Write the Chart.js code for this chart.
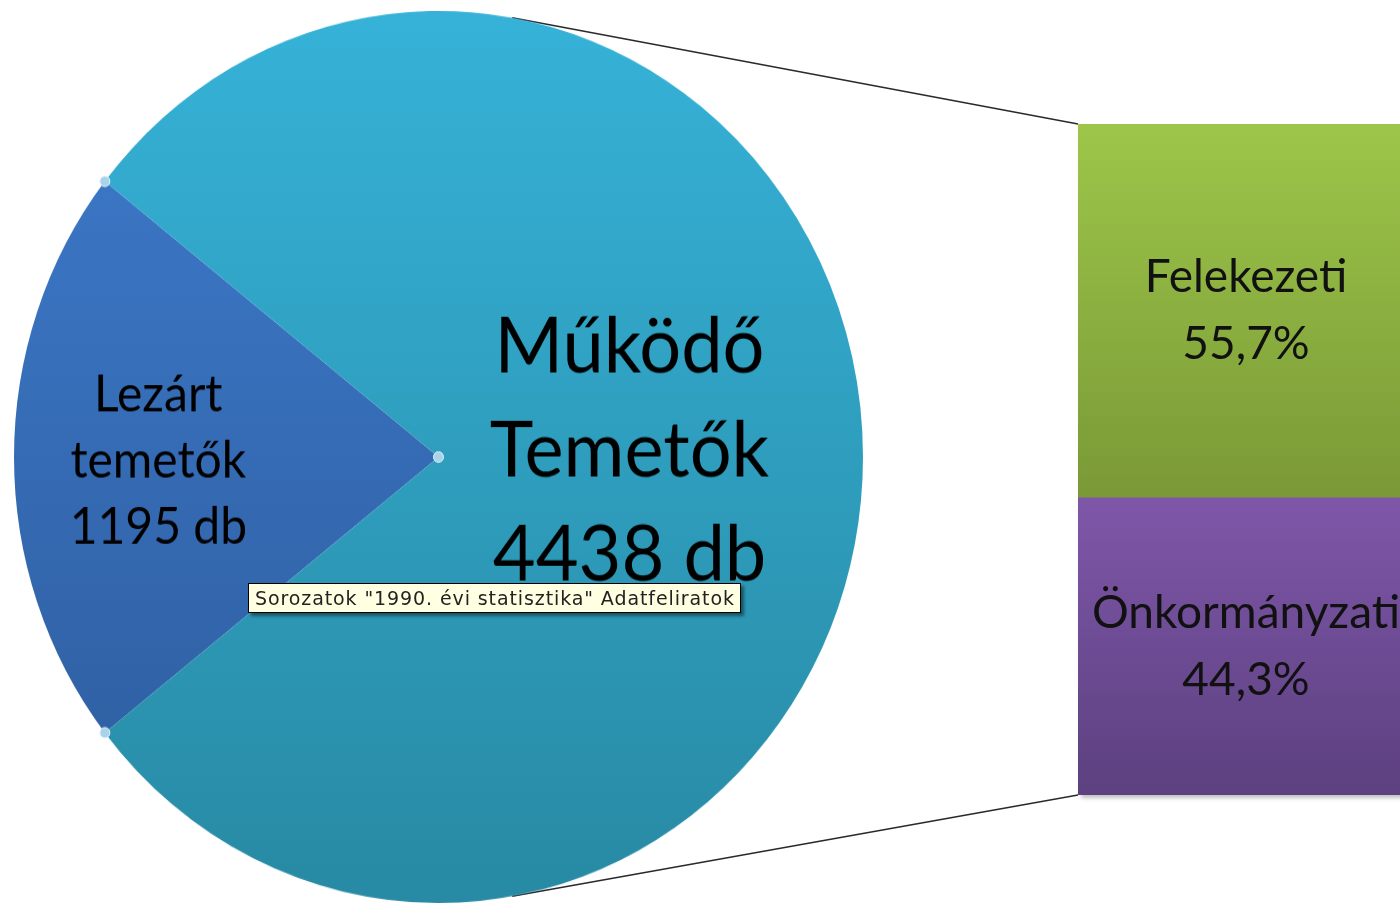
<!DOCTYPE html>
<html>
<head>
<meta charset="utf-8">
<script src="https://cdn.jsdelivr.net/npm/chart.js@4.4.1/dist/chart.umd.min.js"></script>
<style>
  html, body { margin: 0; padding: 0; background: #fff; width: 1400px; height: 903px; overflow: hidden; position: relative; }
  #pieWrap { position: absolute; left: 14px; top: 11px; width: 849px; height: 849px; transform: scaleY(1.0507); transform-origin: 0 0; }
  #barWrap { position: absolute; left: 1078px; top: 124px; width: 336px; height: 671px; box-shadow: 3px 3px 4px rgba(0,0,0,0.25); }
  #lines { position: absolute; left: 0; top: 0; pointer-events: none; }
  #tip { position: absolute; left: 248px; top: 583px; padding: 3px 5px 3px 6px; background: #ffffe1; border: 1px solid #000;
         font: 19px "DejaVu Sans", "Noto Sans", sans-serif; letter-spacing: 0.9px; color: #222; white-space: nowrap;
         box-shadow: 3px 3px 3px rgba(0,0,0,0.45); }
</style>
</head>
<body>
<canvas id="lines" width="1400" height="903"></canvas>
<div id="pieWrap"><canvas id="pieChart"></canvas></div>
<div id="barWrap"><canvas id="barChart"></canvas></div>
<div id="tip">Sorozatok "1990. évi statisztika" Adatfeliratok</div>

<script>
// pie data
const pieLabels = ["Lezárt temetők", "Működő Temetők"];
const pieValues = [1195, 4438];
const pieText = [["Lezárt", "temetők", "1195 db"], ["Működő", "Temetők", "4438 db"]];

// bar data (split of the working cemeteries), bottom first
const barLabels = ["Önkormányzati", "Felekezeti"];
const barValues = [44.3, 55.7];
const barText = [["Önkormányzati", "44,3%"], ["Felekezeti", "55,7%"]];

const pieColors = [["#3e7ccd", "#2d5b9c"], ["#36b2d8", "#288aa4"]];
const barColors = [["#7f57a9", "#5c407f"], ["#9dc649", "#7a9937"]];

const textFont = "Lato, 'Open Sans', sans-serif";

function vGrad(chart, top, bottom, pair) {
    const g = chart.ctx.createLinearGradient(0, top, 0, bottom);
    g.addColorStop(0, pair[0]);
    g.addColorStop(1, pair[1]);
    return g;
}

const frac = pieValues[0] / (pieValues[0] + pieValues[1]);

const pieLabelPlugin = {
    id: 'pieLabels',
    afterDatasetsDraw(chart) {
        const ctx = chart.ctx;
        const arcs = chart.getDatasetMeta(0).data;
        const sizes = [48, 74];
        const gaps = [63, 99];
        const dist = [0.66, 0.45];
        const dy = [4, -5];
        arcs.forEach(function (arc, i) {
            const mid = (arc.startAngle + arc.endAngle) / 2;
            const x = arc.x + Math.cos(mid) * arc.outerRadius * dist[i];
            const y = arc.y + Math.sin(mid) * arc.outerRadius * dist[i] + dy[i];
            ctx.save();
            ctx.fillStyle = "#000";
            ctx.font = sizes[i] + "px " + textFont;
            ctx.textAlign = "center";
            ctx.textBaseline = "middle";
            pieText[i].forEach(function (line, k) {
                ctx.fillText(line, x, y + (k - 1) * gaps[i]);
            });
            ctx.restore();
        });
        // selection handles on the small slice
        const a = arcs[0];
        const pts = [
            [a.x + Math.cos(a.startAngle) * a.outerRadius, a.y + Math.sin(a.startAngle) * a.outerRadius],
            [a.x, a.y],
            [a.x + Math.cos(a.endAngle) * a.outerRadius, a.y + Math.sin(a.endAngle) * a.outerRadius]
        ];
        ctx.save();
        pts.forEach(function (p) {
            ctx.beginPath();
            ctx.arc(p[0], p[1], 5, 0, Math.PI * 2);
            ctx.fillStyle = "#a9d3ea";
            ctx.fill();
            ctx.lineWidth = 1;
            ctx.strokeStyle = "#e8f4fb";
            ctx.stroke();
        });
        ctx.restore();
    }
};

const barLabelPlugin = {
    id: 'barLabels',
    afterDatasetsDraw(chart) {
        const ctx = chart.ctx;
        chart.data.datasets.forEach(function (ds, i) {
            const bar = chart.getDatasetMeta(i).data[0];
            const cy = (bar.y + bar.base) / 2;
            ctx.save();
            ctx.fillStyle = "#111";
            ctx.font = "46px " + textFont;
            ctx.textAlign = "center";
            ctx.textBaseline = "middle";
            barText[i].forEach(function (line, k) {
                ctx.fillText(line, bar.x, cy + (k - 0.5) * 67);
            });
            ctx.restore();
        });
    }
};

const pieChart = new Chart(document.getElementById('pieChart'), {
    type: 'pie',
    data: {
        labels: pieLabels,
        datasets: [{
            data: pieValues,
            borderWidth: 0,
            backgroundColor: function (c) {
                const area = c.chart.chartArea;
                if (!area) return pieColors[c.dataIndex][0];
                return vGrad(c.chart, area.top, area.bottom, pieColors[c.dataIndex]);
            }
        }]
    },
    options: {
        responsive: true,
        maintainAspectRatio: false,
        animation: false,
        events: [],
        rotation: 270 - 180 * frac,
        layout: { padding: 0 },
        plugins: { legend: { display: false }, tooltip: { enabled: false } }
    },
    plugins: [pieLabelPlugin]
});

const barChart = new Chart(document.getElementById('barChart'), {
    type: 'bar',
    data: {
        labels: [""],
        datasets: barLabels.map(function (name, i) {
            return {
                label: name,
                data: [barValues[i]],
                borderWidth: 0,
                barPercentage: 1,
                categoryPercentage: 1,
                backgroundColor: function (c) {
                    const el = c.chart.getDatasetMeta(c.datasetIndex).data[0];
                    if (!el || el.y === undefined || isNaN(el.y)) return barColors[i][0];
                    return vGrad(c.chart, el.y, el.base, barColors[i]);
                }
            };
        })
    },
    options: {
        responsive: true,
        maintainAspectRatio: false,
        animation: false,
        events: [],
        layout: { padding: 0 },
        scales: {
            x: { stacked: true, display: false },
            y: { stacked: true, display: false, min: 0, max: 100 }
        },
        plugins: { legend: { display: false }, tooltip: { enabled: false } }
    },
    plugins: [barLabelPlugin]
});
// redraw once so the bar gradients use the laid-out element positions
barChart.update();

// series lines from the pie (10° off the vertical) to the bar corners
function drawLines() {
    const cv = document.getElementById('lines');
    const ctx = cv.getContext('2d');
    ctx.clearRect(0, 0, cv.width, cv.height);
    const arc = pieChart.getDatasetMeta(0).data[0];
    const wrap = document.getElementById('pieWrap');
    const pr = wrap.getBoundingClientRect();
    const sx = pr.width / wrap.offsetWidth, sy = pr.height / wrap.offsetHeight;
    const bw = document.getElementById('barWrap');
    const topBar = barChart.getDatasetMeta(1).data[0];
    const botBar = barChart.getDatasetMeta(0).data[0];
    const left = bw.offsetLeft + topBar.x - topBar.width / 2;
    const r = arc.outerRadius;
    const off = Math.PI / 18;
    const top = [pr.left + (arc.x + Math.sin(off) * r) * sx, pr.top + (arc.y - Math.cos(off) * r) * sy];
    const bot = [pr.left + (arc.x + Math.sin(off) * r) * sx, pr.top + (arc.y + Math.cos(off) * r) * sy];
    ctx.strokeStyle = "#2a2a2a";
    ctx.lineWidth = 1.6;
    ctx.beginPath();
    ctx.moveTo(top[0], top[1]);
    ctx.lineTo(left, bw.offsetTop + topBar.y);
    ctx.moveTo(bot[0], bot[1]);
    ctx.lineTo(left, bw.offsetTop + botBar.base);
    ctx.stroke();
}
drawLines();
window.addEventListener('load', drawLines);
setTimeout(drawLines, 50);
</script>
</body>
</html>
